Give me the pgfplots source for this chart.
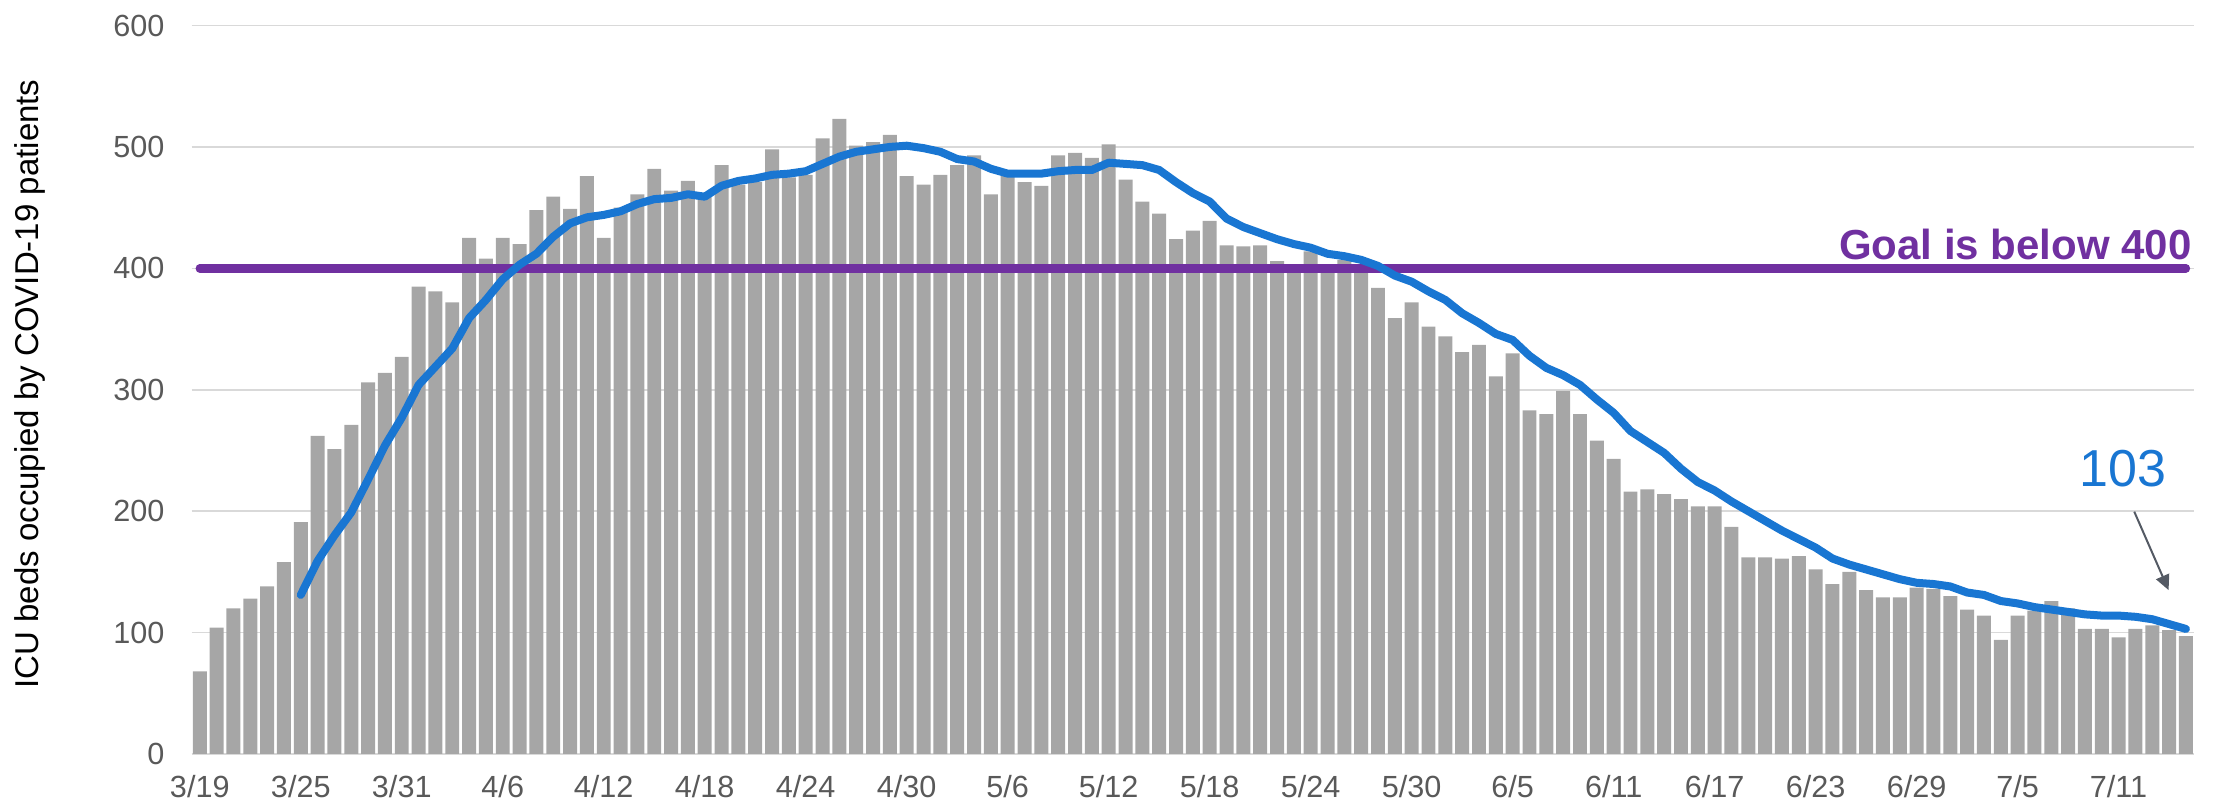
\documentclass[border=0pt]{standalone}
\usepackage{fontspec}
\setmainfont{Liberation Sans}
\usepackage{pgfplots}
\usepackage{pgfplotstable}
\pgfplotsset{compat=1.18}
\usetikzlibrary{arrows.meta}
\definecolor{bargray}{HTML}{A6A6A6}
\definecolor{gridgray}{HTML}{D9D9D9}
\definecolor{tickgray}{HTML}{595959}
\definecolor{lineblue}{HTML}{1976D2}
\definecolor{goalpurple}{HTML}{7030A0}
\definecolor{arrowgray}{HTML}{545A64}

\pgfplotstableread{
x y
0 68
1 104
2 120
3 128
4 138
5 158
6 191
7 262
8 251
9 271
10 306
11 314
12 327
13 385
14 381
15 372
16 425
17 408
18 425
19 420
20 448
21 459
22 449
23 476
24 425
25 450
26 461
27 482
28 464
29 472
30 460
31 485
32 469
33 471
34 498
35 475
36 477
37 507
38 523
39 501
40 504
41 510
42 476
43 469
44 477
45 485
46 493
47 461
48 476
49 471
50 468
51 493
52 495
53 491
54 502
55 473
56 455
57 445
58 424
59 431
60 439
61 419
62 418
63 419
64 406
65 398
66 414
67 400
68 407
69 401
70 384
71 359
72 372
73 352
74 344
75 331
76 337
77 311
78 330
79 283
80 280
81 299
82 280
83 258
84 243
85 216
86 218
87 214
88 210
89 204
90 204
91 187
92 162
93 162
94 161
95 163
96 152
97 140
98 150
99 135
100 129
101 129
102 137
103 136
104 130
105 119
106 114
107 94
108 114
109 118
110 126
111 120
112 103
113 103
114 96
115 103
116 106
117 102
118 97
}\bars

\pgfplotstableread{
x y
6 131
7 159
8 180
9 199
10 226
11 254
12 277
13 304
14 319
15 334
16 359
17 374
18 391
19 403
20 412
21 426
22 437
23 442
24 444
25 447
26 453
27 457
28 458
29 461
30 459
31 468
32 472
33 474
34 477
35 478
36 480
37 486
38 492
39 496
40 498
41 500
42 501
43 499
44 496
45 490
46 488
47 482
48 478
49 478
50 478
51 480
52 481
53 481
54 487
55 486
56 485
57 481
58 471
59 462
60 455
61 441
62 434
63 429
64 424
65 420
66 417
67 412
68 410
69 407
70 402
71 394
72 389
73 381
74 374
75 363
76 355
77 346
78 341
79 328
80 318
81 312
82 304
83 292
84 281
85 266
86 257
87 248
88 235
89 224
90 217
91 208
92 200
93 192
94 184
95 177
96 170
97 161
98 156
99 152
100 148
101 144
102 141
103 140
104 138
105 133
106 131
107 126
108 124
109 121
110 119
111 117
112 115
113 114
114 114
115 113
116 111
117 107
118 103
}\avg

\begin{document}
\begin{tikzpicture}
\useasboundingbox (-95.85pt,-24pt) rectangle (1017.15pt,377pt);
\begin{axis}[
  at={(0,0)}, anchor=south west,
  scale only axis, width=1001.15pt, height=364.25pt,
  xmin=-0.48, xmax=118.48, ymin=0, ymax=600,
  ytick={0,100,200,300,400,500,600},
  xtick={0,6,12,18,24,30,36,42,48,54,60,66,72,78,84,90,96,102,108,114},
  xticklabels={3/19,3/25,3/31,4/6,4/12,4/18,4/24,4/30,5/6,5/12,5/18,5/24,5/30,6/5,6/11,6/17,6/23,6/29,7/5,7/11},
  major tick length=0pt,
  axis x line*=bottom, axis y line*=left,
  x axis line style={draw=gridgray, line width=0.75pt},
  y axis line style={draw=none},
  ymajorgrids, grid style={draw=gridgray, line width=0.75pt},
  tick label style={font=\fontsize{15.3}{18}\selectfont, text=tickgray, inner sep=0pt},
  xticklabel style={anchor=north, yshift=-10.5pt},
  yticklabel style={anchor=east, xshift=-13.4pt},
  /pgf/number format/assume math mode=true,
  clip=false,
]
\addplot[ybar, bar width=0.83, fill=bargray, draw=none] table[x=x,y=y] {\bars};
\addplot[goalpurple, line width=4.2pt, line cap=round] coordinates {(0,400) (118,400)};
\addplot[lineblue, line width=4pt, line cap=round, line join=round] table[x=x,y=y] {\avg};
\node[anchor=base east, text=goalpurple, font=\fontsize{21}{25}\selectfont\bfseries, inner sep=0pt] at (axis cs:118.36,407.4) {Goal is below 400};
\node[anchor=base, text=lineblue, font=\fontsize{26}{30}\selectfont, inner sep=0pt] at (axis cs:114.25,220.7) {103};
\draw[arrowgray, line width=1pt, -{Triangle[length=7.5pt,width=7pt]}] (axis cs:114.93,199.6) -- (axis cs:116.97,135);
\end{axis}
\node[rotate=90, font=\fontsize{16.5}{19}\selectfont] at (-80.85pt,185pt) {ICU beds occupied by COVID-19 patients};
\end{tikzpicture}
\end{document}
